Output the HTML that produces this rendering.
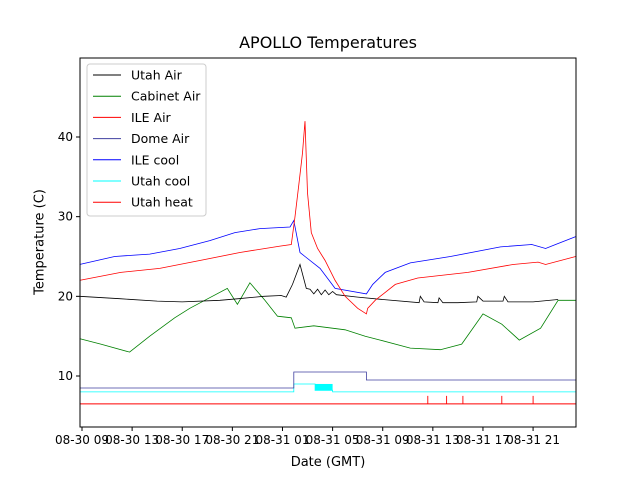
<!DOCTYPE html>
<html><head><meta charset="utf-8"><style>
body{margin:0;background:#fff}
svg{font-family:"DejaVu Sans","Liberation Sans",sans-serif}
</style></head><body>
<svg id="c" width="640" height="480" xmlns="http://www.w3.org/2000/svg"></svg>
<script>
// hours since 08-30 09:00 GMT
const tickLabels=["08-30 09","08-30 13","08-30 17","08-30 21","08-31 01","08-31 05","08-31 09","08-31 13","08-31 17","08-31 21"];
const tickHours=[0,4,8,12,16,20,24,28,32,36];
const yTicks=[10,20,30,40];
const utahAirT=[-0.2,3,6,8,11,12.5,14.5,15.9,16.3,16.8,17.4,17.9,18.2,18.5,18.8,19.1,19.4,19.7,20,20.3,22,24,26.9,27,27.3,28.4,28.5,28.8,30,31.5,31.6,32,33.6,33.7,34,36,38];
const utahAirV=[20,19.7,19.4,19.3,19.5,19.7,20,20.1,19.9,21.5,24,21,20.9,20.3,20.9,20.2,20.8,20.2,20.6,20.2,19.9,19.6,19.2,20,19.3,19.2,19.8,19.2,19.2,19.3,20,19.4,19.4,20,19.3,19.3,19.6];
const cabinetT=[-0.2,1.5,3.8,5.4,7.4,8.6,9.8,11.6,12.4,13.4,14.6,15.6,16.7,17.0,18.5,21,22.6,23.8,26.2,28.6,30.3,32,33.5,34.9,36.6,38,39.4];
const cabinetV=[14.7,14,13.0,15,17.3,18.5,19.5,21,19,21.7,19.5,17.5,17.3,16,16.3,15.8,15,14.5,13.5,13.3,14,17.8,16.5,14.5,16,19.5,19.5];
const ileAirT=[-0.2,3.1,6.2,9.4,12.6,15.8,16.7,17.0,17.3,17.6,17.8,18.0,18.3,18.8,19.4,20.2,21,22,22.7,22.8,23.4,25,26.8,30.8,34.4,36.4,37,39.4];
const ileAirV=[22,23,23.5,24.5,25.5,26.3,26.5,30,34,38,42,33,28,26,24.5,22,20,18.5,17.8,18.5,19.5,21.5,22.3,23,24,24.3,24,25];
const ileCoolT=[-0.2,2.6,5.4,7.8,10.2,12.2,14.2,16.6,16.9,17.4,17.8,19,20.2,22.7,23.2,24.2,26.2,29.4,33.4,35.9,37,37.8,39.4];
const ileCoolV=[24,25,25.3,26,27,28,28.5,28.7,29.5,25.5,25,23.5,21,20.3,21.5,23,24.2,25,26.2,26.5,26,26.5,27.5];
const domeT=[-0.2,16.9,16.9,22.7,22.7,39.4];
const domeV=[8.5,8.5,10.5,10.5,9.5,9.5];
const utahCoolT=[-0.2,16.9,16.9,18.6,18.6,20.0,20.0,39.4];
const utahCoolV=[8,8,9,9,8.2,8.2,8,8];
const heatSpikes=[27.6,29.1,30.4,33.5,36];
const heatBase=6.5, heatOn=7.5;
const ns="http://www.w3.org/2000/svg",svg=document.getElementById('c');
const X=h=>82+h*12.53, Y=v=>376-(v-10)*7.967;
function el(t,a,p){const e=document.createElementNS(ns,t);for(const k in a)e.setAttribute(k,a[k]);(p||svg).appendChild(e);return e;}
function line(T,V,col,name){const p=el('path',{d:T.map((t,i)=>(i?'L':'M')+X(t).toFixed(1)+' '+Y(V[i]).toFixed(1)).join(''),fill:'none',stroke:col,'stroke-width':0.8});

}
el('rect',{x:80,y:58,width:496,height:369,fill:'#fff'});
line(utahCoolT,utahCoolV,'#00ffff','utah-cool-line');
const blk=el('rect',{x:X(18.6),y:Y(9),width:X(20)-X(18.6),height:Y(8.2)-Y(9),fill:'#00ffff'});


line(domeT,domeV,'#4040a0','dome-air-line');
let hd='M'+X(-0.2)+' '+Y(heatBase)+'H'+X(39.4);
heatSpikes.forEach(h=>{hd+='M'+X(h).toFixed(1)+' '+Y(heatBase)+'V'+Y(heatOn).toFixed(1);});
const hp=el('path',{d:hd,stroke:'#ff0000','stroke-width':0.9,fill:'none'});


line(cabinetT,cabinetV,'#008000','cabinet-air-line');
line(utahAirT,utahAirV,'#000','utah-air-line');
line(ileCoolT,ileCoolV,'#0000ff','ile-cool-line');
line(ileAirT,ileAirV,'#ff0000','ile-air-line');
el('rect',{x:80,y:58,width:496,height:369,fill:'none',stroke:'#000','stroke-width':1});
tickHours.forEach((h,i)=>{el('line',{x1:X(h),x2:X(h),y1:427,y2:431,stroke:'#000'});
const t=el('text',{x:X(h),y:444,'text-anchor':'middle','font-size':12});t.textContent=tickLabels[i];

});
yTicks.forEach(v=>{el('line',{x1:76,x2:80,y1:Y(v),y2:Y(v),stroke:'#000'});
const t=el('text',{x:73,y:Y(v)+4,'text-anchor':'end','font-size':12});t.textContent=v;

});
const leg=[["Utah Air","#000"],["Cabinet Air","#008000"],["ILE Air","#ff0000"],["Dome Air","#4040a0"],["ILE cool","#0000ff"],["Utah cool","#00ffff"],["Utah heat","#ff0000"]];
el('rect',{x:87,y:64,width:119,height:152,rx:3,fill:'#fff',stroke:'#ccc'});
leg.forEach((l,i)=>{const y=75+i*21.2;el('line',{x1:93,x2:121,y1:y,y2:y,stroke:l[1],'stroke-width':1});
const t=el('text',{x:131,y:y+4.5,'font-size':12.5});t.textContent=l[0];

});
</script>
<div style="position:absolute;left:0;top:33px;width:656px;text-align:center;font:16px 'DejaVu Sans','Liberation Sans',sans-serif">APOLLO Temperatures</div>
<div style="position:absolute;left:0;top:455px;width:656px;text-align:center;font:13px 'DejaVu Sans','Liberation Sans',sans-serif">Date (GMT)</div>
<div style="position:absolute;left:40px;top:242px;transform:translate(-50%,-50%) rotate(-90deg);font:13px 'DejaVu Sans','Liberation Sans',sans-serif;white-space:nowrap">Temperature (C)</div>
</body></html>
